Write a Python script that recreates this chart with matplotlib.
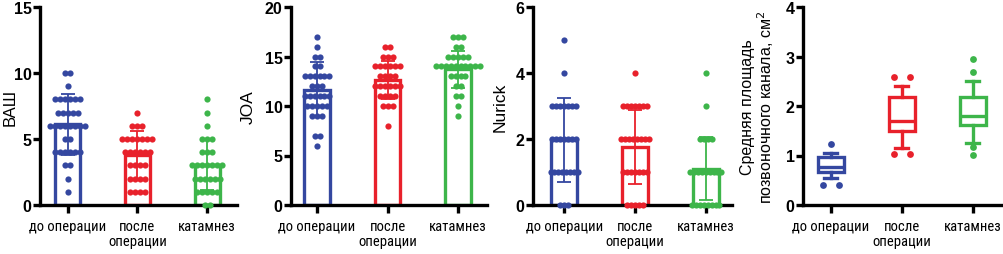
import numpy as np
import matplotlib
matplotlib.use("Agg")
import matplotlib.pyplot as plt
from matplotlib import font_manager

names = {f.name for f in font_manager.fontManager.ttflist}
narrow, cat_size = "Roboto", 9.0
for cand, sz in [("Roboto Condensed", 10.5), ("Liberation Sans Narrow", 10.5),
                 ("DejaVu Sans Condensed", 9.0)]:
    if cand in names:
        narrow, cat_size = cand, sz
        break

plt.rcParams['font.family'] = ['Liberation Sans', 'DejaVu Sans']

categories = ["до операции", "после\nоперации", "катамнез"]
colors = ["#3447A0", "#E8212B", "#3DB54A"]

# Panel 1: ВАШ
vas_before = [10, 10, 9, 8, 8, 8, 8, 8, 8, 7, 7, 7, 7, 7, 6, 6, 6, 6, 6, 6, 6, 6,
              5, 5, 4, 4, 4, 4, 4, 4, 3, 3, 2, 1]
vas_after = [7, 6, 6, 6, 5, 5, 5, 5, 5, 5, 5, 4, 4, 4, 4, 4, 4, 3, 3, 3, 3,
             2, 2, 2, 2, 1, 1, 1, 1]
vas_follow = [8, 7, 6, 5, 5, 5, 4, 4, 4, 3, 3, 3, 3, 3, 3, 3, 2, 2, 2, 2, 2, 2,
              1, 1, 1, 1, 1, 0, 0]
vas_mean = [6.1, 3.8, 3.0]
vas_sd = [2.3, 1.8, 1.9]

# Panel 2: JOA
joa_before = [17, 16, 15, 15, 14, 14, 13, 13, 13, 13, 13, 13, 12, 12, 12,
              11, 11, 11, 11, 11, 11, 10, 10, 10, 10, 10, 9, 9, 9, 7, 7, 6]
joa_after = [16, 16, 15, 15, 15, 14, 14, 14, 14, 14, 14, 13, 13, 13, 13,
             12, 12, 12, 12, 12, 12, 11, 11, 11, 11, 10, 10, 10, 8]
joa_follow = [17, 17, 17, 16, 16, 15, 15, 15, 15, 15, 14, 14, 14, 14, 14, 14, 14, 14, 14, 14,
              13, 13, 13, 13, 12, 12, 11, 11, 10, 9]
joa_mean = [11.65, 12.6, 13.7]
joa_sd = [2.75, 1.9, 1.85]

# Panel 3: Nurick
nur_before = [5, 4, 3, 3, 3, 3, 3, 3, 3, 2, 2, 2, 2, 2, 2, 2,
              1, 1, 1, 1, 1, 1, 1, 1, 0, 0, 0]
nur_after = [4, 3, 3, 3, 3, 3, 3, 3, 2, 2, 2, 2, 2, 2, 2, 2,
             1, 1, 1, 1, 1, 1, 1, 0, 0, 0, 0, 0]
nur_follow = [4, 3, 2, 2, 2, 2, 1, 1, 1, 1, 1, 1, 1, 1, 1,
              0, 0, 0, 0, 0, 0, 0, 0]
nur_mean = [1.97, 1.76, 1.1]
nur_sd = [1.27, 1.12, 0.96]

# Panel 4: area, box plots
area_med = [0.77, 1.70, 1.80]
area_q1 = [0.67, 1.49, 1.61]
area_q3 = [0.96, 2.18, 2.18]
area_whislo = [0.54, 1.16, 1.26]
area_whishi = [1.06, 2.40, 2.51]
area_fliers = [[1.23, 0.40, 0.40], [2.59, 2.59, 1.04, 1.04], [2.94, 2.69, 1.17, 1.02]]

W, H = 1004, 255
fig = plt.figure(figsize=(W / 100, H / 100), dpi=100)

bottom = 1 - 206 / H
height = (206 - 8) / H
specs = [
    (40, 197, (-0.40, 2.43), -0.112),
    (291, 196, (-0.37, 2.41), -0.18),
    (533, 199, (-0.44, 2.37), -0.126),
    (803, 199, (-0.39, 2.41), -0.136),
]
axes = [fig.add_axes([l / W, bottom, w / W, height]) for l, w, _, _ in specs]
for ax, (_, _, xl, _) in zip(axes, specs):
    ax.set_xlim(*xl)

LW = 2.4


def style(ax, ylim, yticks, ylabel, labx, labsize):
    ax.set_ylim(*ylim)
    ax.set_yticks(yticks)
    for s in ["top", "right"]:
        ax.spines[s].set_visible(False)
    for s in ["left", "bottom"]:
        ax.spines[s].set_linewidth(LW)
    ax.tick_params(axis="y", length=5, width=LW, labelsize=11.5, pad=1)
    ax.tick_params(axis="x", length=6, width=LW, pad=4)
    for t in ax.get_yticklabels():
        t.set_fontweight("bold")
    ax.set_xticks(range(3))
    ax.set_xticklabels(categories, linespacing=1.1, family=[narrow, 'DejaVu Sans'],
                       fontsize=cat_size)
    ax.set_ylabel(ylabel, fontsize=labsize)
    ax.yaxis.set_label_coords(labx, 0.5)


def bar_panel(ax, groups, means, sds, dx):
    x = np.arange(3)
    ax.bar(x, means, width=0.36, facecolor="white", edgecolor=colors, linewidth=LW, zorder=2)
    for i, vals in enumerate(groups):
        vals = np.asarray(vals, dtype=float)
        xs = np.zeros_like(vals)
        for v in np.unique(vals):
            idx = np.where(vals == v)[0]
            n = len(idx)
            xs[idx] = i + (np.arange(n) - (n - 1) / 2) * dx
        ax.scatter(xs, vals, s=20, color=colors[i], zorder=3, clip_on=False, linewidths=0)
        ax.errorbar(i, means[i], yerr=sds[i], color=colors[i], capsize=5, elinewidth=1.3,
                    capthick=1.3, zorder=4)


bar_panel(axes[0], [vas_before, vas_after, vas_follow], vas_mean, vas_sd, 0.072)
style(axes[0], (0, 15), [0, 5, 10, 15], "ВАШ", specs[0][3], 12)

bar_panel(axes[1], [joa_before, joa_after, joa_follow], joa_mean, joa_sd, 0.07)
style(axes[1], (0, 20), [0, 5, 10, 15, 20], "JOA", specs[1][3], 12.5)

bar_panel(axes[2], [nur_before, nur_after, nur_follow], nur_mean, nur_sd, 0.055)
style(axes[2], (0, 6), [0, 2, 4, 6], "Nurick", specs[2][3], 12.5)

ax = axes[3]
stats = []
for i in range(3):
    stats.append(dict(med=area_med[i], q1=area_q1[i], q3=area_q3[i],
                      whislo=area_whislo[i], whishi=area_whishi[i], fliers=[]))
bp = ax.bxp(stats, positions=range(3), widths=0.36, showfliers=False, patch_artist=True)
for i in range(3):
    c = colors[i]
    bp["boxes"][i].set(facecolor="white", edgecolor=c, linewidth=LW)
    bp["medians"][i].set(color=c, linewidth=LW)
    for k in (2 * i, 2 * i + 1):
        bp["whiskers"][k].set(color=c, linewidth=LW)
        bp["caps"][k].set(color=c, linewidth=LW)
    fl = np.asarray(area_fliers[i])
    xs = np.zeros_like(fl)
    for v in np.unique(fl):
        idx = np.where(fl == v)[0]
        n = len(idx)
        xs[idx] = i + (np.arange(n) - (n - 1) / 2) * 0.22
    ax.scatter(xs, fl, s=24, color=c, zorder=3, linewidths=0, clip_on=False)
style(ax, (0, 4), [0, 1, 2, 3, 4], "Средняя площадь\nпозвоночного канала, см$^2$",
      specs[3][3], 11.5)
ax.yaxis.label.set_linespacing(1.0)

fig.savefig("out.png", dpi=100)
